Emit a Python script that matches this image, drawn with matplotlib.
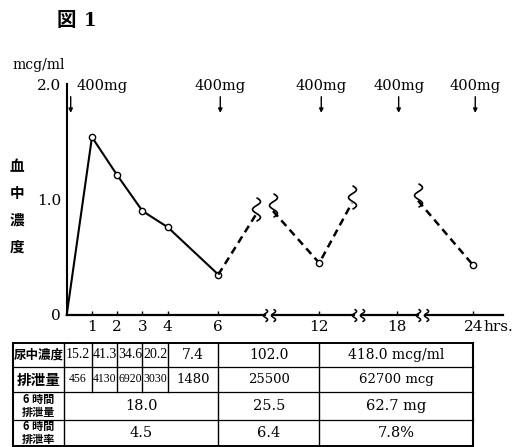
import numpy as np
import matplotlib.pyplot as plt
from matplotlib.path import Path
from matplotlib.transforms import offset_copy

# serum level after 400 mg every 6 hrs (mcg/ml)
hours = [0, 1, 2, 3, 4, 6, 12, 24]
conc = [0, 1.54, 1.21, 0.90, 0.76, 0.35, 0.45, 0.43]
# ends of the dashed (estimated) parts at the breaks
brk_x = [8.24, 9.25, 14.53, 19.67]
brk_y = [0.87, 0.90, 0.97, 0.99]
doses = [0, 6, 12, 18, 24]
xticks = [1, 2, 3, 4, 6, 12, 18, 24]
axis_breaks = [9, 15, 20]

# table below the chart
cut_edges = [0, 1, 2, 3, 4, 6, 12, 24]
sum_edges = [0, 6, 12, 24]
urine_conc = ['15.2', '41.3', '34.6', '20.2', '7.4', '102.0', '418.0 mcg/ml']
excreted = ['456', '4130', '6920', '3030', '1480', '25500', '62700 mcg']
six_amount = ['18.0', '25.5', '62.7 mg']
six_rate = ['4.5', '6.4', '7.8%']
row_heads = ['尿中濃度', '排泄量', '6 時間\n排泄量', '6 時間\n排泄率']

JP = ['Noto Sans CJK JP', 'DejaVu Sans']
SER = 'DejaVu Serif'

W, H = 519, 447
fig = plt.figure(figsize=(W/100, H/100), dpi=100)
ax = fig.add_axes([66.7/W, 132/H, 436.3/W, 231/H])

# broken time axis: 0-6 h wide, the rest squeezed
kh = [-10, 0, 6, 12, 18, 24, 40]
kp = [-252.7, 0, 151.6, 252.6, 330, 406.6, 610.9]
def fwd(h):
    return np.interp(h, kh, kp)
def inv(p):
    return np.interp(p, kp, kh)
ax.set_xscale('function', functions=(fwd, inv))
ax.set_xlim(0, 26.33)
ax.set_ylim(0, 2.0)

t = np.linspace(0, 1, 30)
wave = Path(np.column_stack([0.17*np.sin(2*np.pi*1.5*t), t - 0.5]))

# measured curve
ax.plot(hours[:6], conc[:6], color='k', lw=1.5, marker='o', ms=4.5,
        mfc='white', mec='k', mew=1, markevery=range(1, 6), clip_on=False)
# dashed parts
segs = [([hours[5], brk_x[0]], [conc[5], brk_y[0]]),
        ([brk_x[1], hours[6], brk_x[2]], [brk_y[1], conc[6], brk_y[2]]),
        ([brk_x[3], hours[7]], [brk_y[3], conc[7]])]
for sx, sy in segs:
    ax.plot(sx, sy, color='k', lw=1.8, ls=(0, (3, 2)))
ax.plot(hours[6:], conc[6:], ls='none', marker='o', ms=4.5, mfc='white',
        mec='k', mew=1, zorder=3)
ax.plot(brk_x, [y + 0.05 for y in brk_y], ls='none', marker=wave, ms=17,
        mfc='none', mec='k', mew=1.2)

# axis line with gaps
for s in ['top', 'right', 'bottom']:
    ax.spines[s].set_visible(False)
ax.spines['left'].set_linewidth(1.5)
edges = [0]
for b in axis_breaks:
    edges += [inv(fwd(b) - 4), inv(fwd(b) + 4)]
edges.append(26.33)
for i in range(0, len(edges), 2):
    ax.plot([edges[i], edges[i+1]], [0, 0], color='k', lw=1.6, clip_on=False)
ax.plot(edges[1:-1], [0]*(len(edges)-2), ls='none', marker=wave, ms=9,
        mfc='none', mec='k', mew=1.1, clip_on=False)

ax.set_xticks(xticks)
ax.set_xticklabels([str(v) for v in xticks], family=SER, fontsize=11)
ax.tick_params(axis='x', direction='in', length=3, width=1, pad=3.5)
ax.set_yticks([0, 1.0, 2.0])
ax.set_yticklabels(['0', '1.0', '2.0'], family=SER, fontsize=11)
ax.tick_params(axis='y', length=0, pad=4)
ax.annotate('hrs.', xy=(24, 0), xytext=(7, -3.5), textcoords='offset points',
            ha='left', va='top', family=SER, fontsize=11)

# doses
for i, d in enumerate(doses):
    if i == 0:
        tr = offset_copy(ax.transData, fig=fig, x=4, y=0, units='dots')
        ax.annotate('400mg', xy=(d, 1.98), xytext=(7, 0), textcoords='offset points',
                    ha='left', va='center', family=SER, fontsize=10.5,
                    annotation_clip=False)
    else:
        tr = offset_copy(ax.transData, fig=fig, x=2, y=0, units='dots')
        ax.annotate('400mg', xy=(d, 1.98), xycoords=tr, ha='center', va='center',
                    family=SER, fontsize=10.5, annotation_clip=False)
    ax.annotate('', xy=(d, 1.75), xycoords=tr, xytext=(d, 1.89), textcoords=tr,
                arrowprops=dict(arrowstyle='-|>', color='k', lw=1,
                                mutation_scale=6, shrinkA=0, shrinkB=0),
                annotation_clip=False)

fig.text(12/W, 1 - 65/H, 'mcg/ml', family=SER, fontsize=10, va='center')
for i, ch in enumerate('血中濃度'):
    fig.text(17/W, 1 - (166 + i*27)/H, ch, family=JP, fontsize=10.5,
             fontweight='bold', ha='center', va='center')
fig.text(66/W, 1 - 21/H, '図', family=JP, fontsize=14, fontweight='bold',
         ha='center', va='center')
fig.text(90/W, 1 - 21/H, '1', family=SER, fontsize=13, fontweight='bold',
         ha='center', va='center')

# table, sharing the time scale
tax = fig.add_axes([66.7/W, 1/H, 436.3/W, 103/H], sharex=ax)
tax.set_ylim(103, 0)
tax.axis('off')
left, sep = -2.14, -0.1
rows = [0, 24, 49, 77, 103]
for i, y in enumerate(rows):
    lw = 1.4 if i in (0, len(rows)-1) else 0.9
    tax.plot([left, 24], [y, y], color='k', lw=lw, clip_on=False)
for x in [left, 24]:
    tax.plot([x, x], [0, 103], color='k', lw=1.5, clip_on=False)
for x in [sep, 6, 12]:
    tax.plot([x, x], [0, 103], color='k', lw=1, clip_on=False)
for x in [1, 2, 3, 4]:
    tax.plot([x, x], [0, rows[2]], color='k', lw=1, clip_on=False)

def cell_mid(a, b):
    return inv((fwd(a) + fwd(b)) / 2)

for r, vals in enumerate([urine_conc, excreted]):
    ym = (rows[r] + rows[r+1]) / 2
    for j, v in enumerate(vals):
        a = sep if j == 0 else cut_edges[j]
        b = cut_edges[j+1]
        if j < 4:
            fam, fs = 'Liberation Serif', (10 if r == 0 else 8.5)
        else:
            fam, fs = SER, (10 if r == 0 else 9.5)
        tax.text(cell_mid(a, b), ym, v, family=fam, fontsize=fs,
                 ha='center', va='center', clip_on=False)
for r, vals in enumerate([six_amount, six_rate]):
    ym = (rows[r+2] + rows[r+3]) / 2
    for j, v in enumerate(vals):
        a = sep if j == 0 else sum_edges[j]
        b = sum_edges[j+1]
        tax.text(cell_mid(a, b), ym, v, family=SER, fontsize=10.5,
                 ha='center', va='center', clip_on=False)
for r, lab in enumerate(row_heads):
    ym = (rows[r] + rows[r+1]) / 2
    fs = 9 if r == 0 else (10.5 if r == 1 else 8)
    tax.text(cell_mid(left, sep), ym, lab, family=JP, fontsize=fs,
             fontweight='bold', ha='center', va='center', linespacing=0.95,
             clip_on=False)

fig.savefig('out.png', dpi=100)
